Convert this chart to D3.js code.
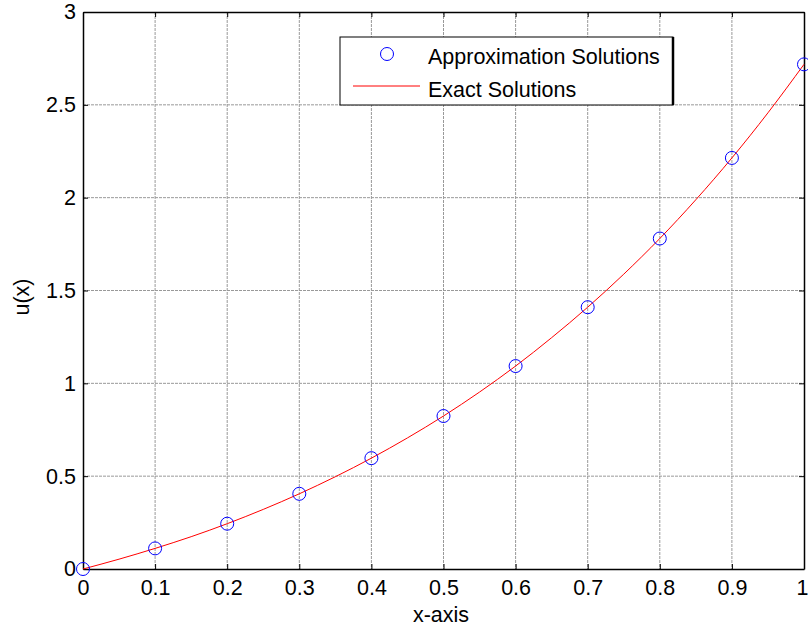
<!DOCTYPE html>
<html lang="en">
<head>
<meta charset="utf-8">
<title>u(x) approximation vs exact</title>
<script src="https://d3js.org/d3.v7.min.js"></script>
<style>
  body { margin: 0; background: #fff; }
  text { font-family: "Liberation Sans", Arial, sans-serif; }
</style>
</head>
<body>
<div id="chart"></div>
<script>
// values
var approxX = [0, 0.1, 0.2, 0.3, 0.4, 0.5, 0.6, 0.7, 0.8, 0.9, 1.0];
var approxU = [0, 0.111, 0.244, 0.405, 0.597, 0.824, 1.093, 1.410, 1.780, 2.214, 2.718];

var exactX = [0, 0.05, 0.1, 0.15, 0.2, 0.25, 0.3, 0.35, 0.4, 0.45, 0.5,
              0.55, 0.6, 0.65, 0.7, 0.75, 0.8, 0.85, 0.9, 0.95, 1.0];
var exactU = [0, 0.053, 0.111, 0.174, 0.244, 0.321, 0.405, 0.497, 0.597, 0.706, 0.824,
              0.953, 1.093, 1.246, 1.410, 1.588, 1.780, 1.989, 2.214, 2.457, 2.718];

var xTicks = [0, 0.1, 0.2, 0.3, 0.4, 0.5, 0.6, 0.7, 0.8, 0.9, 1];
var yTicks = [0, 0.5, 1, 1.5, 2, 2.5, 3];

var legendLabels = ["Approximation Solutions", "Exact Solutions"];

var W = 808, H = 629;
var margin = { top: 12, right: 4, bottom: 60, left: 83 },
    width  = W - margin.left - margin.right,
    height = H - margin.top - margin.bottom;
var fontSize = "21.5px";

var svg = d3.select("#chart").append("svg")
    .attr("width", W).attr("height", H);

var g = svg.append("g")
    .attr("transform", "translate(" + margin.left + "," + margin.top + ")");

var x = d3.scaleLinear().domain([0, 1]).range([0, width]);
var y = d3.scaleLinear().domain([0, 3]).range([height, 0]);

// grid (MATLAB-style light dotted lines)
g.append("g").selectAll("line").data(xTicks.slice(1, -1)).enter().append("line")
    .attr("x1", function(d) { return x(d); }).attr("x2", function(d) { return x(d); })
    .attr("y1", 0).attr("y2", height)
    .attr("stroke", "#999").attr("stroke-dasharray", "3,1").attr("stroke-width", 1);
g.append("g").selectAll("line").data(yTicks.slice(1, -1)).enter().append("line")
    .attr("y1", function(d) { return y(d); }).attr("y2", function(d) { return y(d); })
    .attr("x1", 0).attr("x2", width)
    .attr("stroke", "#999").attr("stroke-dasharray", "3,1").attr("stroke-width", 1);

// axes, ticks pointing inward
var fmt = function(d) { return d3.format("")(d); };
var xAxis = g.append("g").attr("transform", "translate(0," + height + ")")
    .call(d3.axisBottom(x).tickValues(xTicks).tickFormat(fmt).tickSizeInner(-5).tickSizeOuter(0).tickPadding(11));
var xTop = g.append("g")
    .call(d3.axisTop(x).tickValues(xTicks).tickFormat("").tickSizeInner(-5).tickSizeOuter(0));
var yAxis = g.append("g")
    .call(d3.axisLeft(y).tickValues(yTicks).tickFormat(fmt).tickSizeInner(-5).tickSizeOuter(0).tickPadding(7));
var yRight = g.append("g").attr("transform", "translate(" + width + ",0)")
    .call(d3.axisRight(y).tickValues(yTicks).tickFormat("").tickSizeInner(-5).tickSizeOuter(0));

[xAxis, xTop, yAxis, yRight].forEach(function(a) {
    a.select(".domain").attr("stroke", "#000").attr("stroke-width", 1.5);
    a.selectAll(".tick line").attr("stroke", "#000");
    a.selectAll("text").style("font-size", fontSize).attr("fill", "#000")
        .style("font-family", "'Liberation Sans', Arial, sans-serif");
});
// last x label sits at the window edge; nudge it in so it stays visible
xAxis.selectAll(".tick text").filter(function(d) { return d === 1; }).attr("dx", "-2");

// exact curve
var exactData = exactX.map(function(d, i) { return [d, exactU[i]]; });
g.append("path").datum(exactData)
    .attr("fill", "none").attr("stroke", "#ff0000").attr("stroke-width", 1)
    .attr("d", d3.line()
        .x(function(d) { return x(d[0]); })
        .y(function(d) { return y(d[1]); })
        .curve(d3.curveMonotoneX));

// approximation markers
g.append("g").selectAll("circle").data(approxX).enter().append("circle")
    .attr("cx", function(d) { return x(d); })
    .attr("cy", function(d, i) { return y(approxU[i]); })
    .attr("r", 6.5)
    .attr("fill", "none").attr("stroke", "#0000ff").attr("stroke-width", 1);

// axis titles
svg.append("text")
    .attr("x", 441).attr("y", 622)
    .attr("text-anchor", "middle").style("font-size", fontSize)
    .text("x-axis");
svg.append("text")
    .attr("transform", "translate(29,297) rotate(-90)")
    .attr("text-anchor", "middle").style("font-size", fontSize)
    .text("u(x)");

// legend
var lg = svg.append("g").attr("transform", "translate(340,37)");
lg.append("rect").attr("x", 0).attr("y", 0).attr("width", 333).attr("height", 68)
    .attr("fill", "#fff").attr("stroke", "#000").attr("stroke-width", 1);
lg.append("line").attr("x1", 333).attr("x2", 333).attr("y1", 0).attr("y2", 68)
    .attr("stroke", "#000").attr("stroke-width", 2.5);
lg.append("circle").attr("cx", 47).attr("cy", 17).attr("r", 6.5)
    .attr("fill", "none").attr("stroke", "#0000ff").attr("stroke-width", 1);
lg.append("line").attr("x1", 13).attr("x2", 80).attr("y1", 49).attr("y2", 49)
    .attr("stroke", "#ff0000").attr("stroke-width", 1);
lg.selectAll("text.lab").data(legendLabels).enter().append("text")
    .attr("class", "lab")
    .attr("x", 88).attr("y", function(d, i) { return 27 + i * 33; })
    .style("font-size", fontSize)
    .text(function(d) { return d; });
</script>
</body>
</html>
